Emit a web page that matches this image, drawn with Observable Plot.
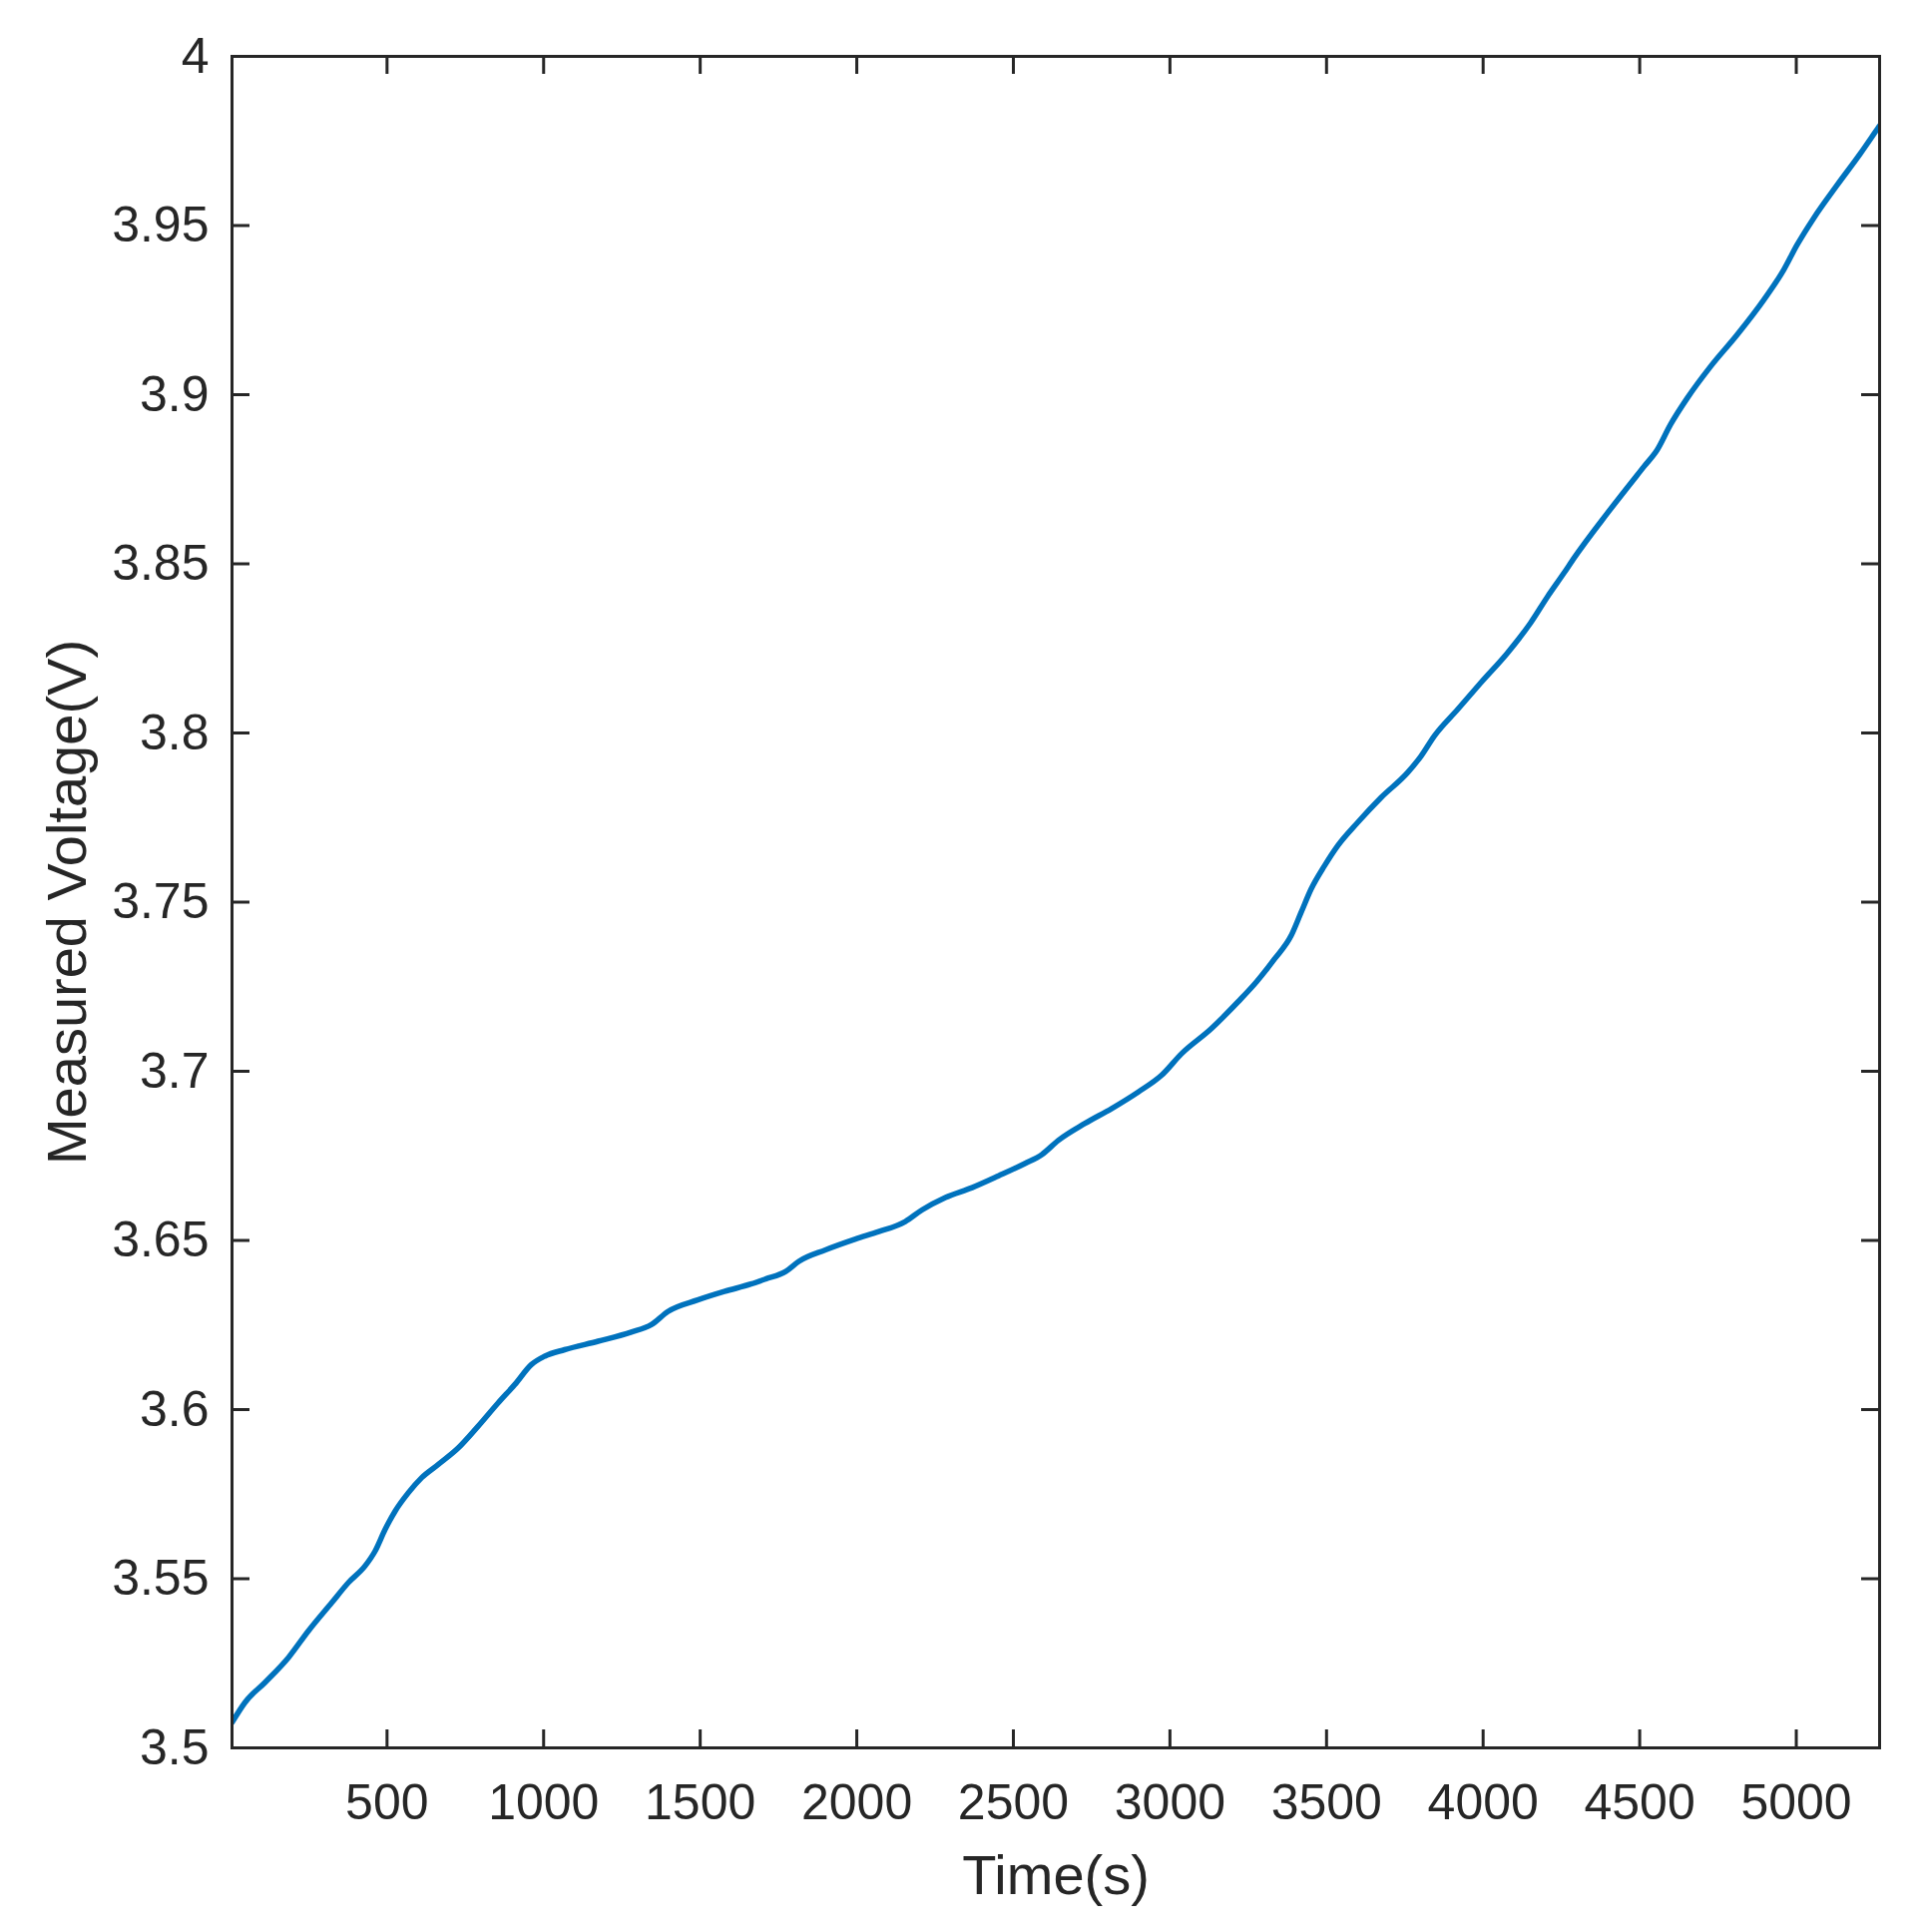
<!DOCTYPE html>
<html>
<head>
<meta charset="utf-8">
<script src="https://cdn.jsdelivr.net/npm/d3@7"></script>
<script src="https://cdn.jsdelivr.net/npm/@observablehq/plot@0.6"></script>
<style>
  html, body { margin: 0; padding: 0; background: #fff; }
</style>
</head>
<body>
<div id="chart"></div>
<script>
const timeS = [5, 47, 111, 186, 249, 324, 377, 430, 462, 494, 526, 568, 611, 664, 728, 791, 855, 908, 961, 1004,
  1067, 1174, 1280, 1344, 1397, 1492, 1577, 1662, 1709, 1773, 1815, 1900, 1996, 2070, 2155, 2208, 2283, 2368,
  2453, 2538, 2591, 2644, 2729, 2814, 2899, 2973, 3037, 3132, 3217, 3276, 3334, 3387, 3419, 3451, 3494, 3536,
  3600, 3674, 3759, 3802, 3844, 3919, 3993, 4078, 4152, 4205, 4259, 4291, 4397, 4514, 4556, 4598, 4652, 4726,
  4811, 4896, 4960, 5002, 5055, 5130, 5204, 5263, 5266];
const voltageV = [3.5075, 3.5135, 3.5194, 3.5268, 3.5346, 3.5430, 3.5489, 3.5538, 3.5582, 3.5646, 3.5700, 3.5754,
  3.5799, 3.5838, 3.5887, 3.5951, 3.6020, 3.6074, 3.6133, 3.6158, 3.6177, 3.6202, 3.6229, 3.6251, 3.6290, 3.6324,
  3.6349, 3.6371, 3.6386, 3.6408, 3.6438, 3.6472, 3.6504, 3.6526, 3.6556, 3.6590, 3.6627, 3.6656, 3.6691, 3.6728,
  3.6754, 3.6796, 3.6846, 3.6890, 3.6939, 3.6988, 3.7052, 3.7126, 3.7205, 3.7264, 3.7332, 3.7401, 3.7470, 3.7539,
  3.7608, 3.7667, 3.7736, 3.7809, 3.7883, 3.7932, 3.7991, 3.8070, 3.8149, 3.8237, 3.8326, 3.8402, 3.8474, 3.8518,
  3.8650, 3.8788, 3.8837, 3.8911, 3.8990, 3.9083, 3.9177, 3.9280, 3.9369, 3.9442, 3.9521, 3.9619, 3.9712, 3.9791,
  3.9795];
const xTicks = [500, 1000, 1500, 2000, 2500, 3000, 3500, 4000, 4500, 5000];
const yTicks = [3.5, 3.55, 3.6, 3.65, 3.7, 3.75, 3.8, 3.85, 3.9, 3.95, 4];
const xDomain = [5, 5266];
const yDomain = [3.5, 4];
const xLabel = "Time(s)";
const yLabel = "Measured Voltage(V)";

const data = timeS.map((t, i) => ({t, v: voltageV[i]}));

const W = 1925, H = 1936;
const mL = 232, mR = 42, mT = 56, mB = 185;
const innerH = H - mT - mB;
const innerW = W - mL - mR;
const TICK = 18;
const ink = "#262626";
const font = "'Liberation Sans', Arial, Helvetica, sans-serif";

const chart = Plot.plot({
  width: W,
  height: H,
  marginLeft: mL,
  marginRight: mR,
  marginTop: mT,
  marginBottom: mB,
  style: {fontFamily: font, fontSize: "50px", color: ink, background: "#fff"},
  x: {domain: xDomain, label: null},
  y: {domain: yDomain, label: null},
  marks: [
    Plot.line(data, {x: "t", y: "v", stroke: "#0072BD", strokeWidth: 5.5, curve: "monotone-x", clip: true}),
    Plot.tickX(xTicks, {x: d => d, insetTop: innerH - TICK, stroke: ink, strokeWidth: 3}),
    Plot.tickX(xTicks, {x: d => d, insetBottom: innerH - TICK, stroke: ink, strokeWidth: 3}),
    Plot.tickY(yTicks, {y: d => d, insetRight: innerW - TICK, stroke: ink, strokeWidth: 3}),
    Plot.tickY(yTicks, {y: d => d, insetLeft: innerW - TICK, stroke: ink, strokeWidth: 3}),
    Plot.frame({stroke: ink, strokeWidth: 3}),
    Plot.axisX({ticks: xTicks, tickSize: 0, tickPadding: 36, tickFormat: d => String(d), fontSize: 50, fill: ink}),
    Plot.axisY({ticks: yTicks, tickSize: 0, tickPadding: 23, tickFormat: d => String(d), fontSize: 50, fill: ink}),
    Plot.text([xLabel], {frameAnchor: "bottom", lineAnchor: "bottom", textAnchor: "middle", dy: 146, fontSize: 56, fill: ink, text: d => d}),
    Plot.text([yLabel], {frameAnchor: "left", lineAnchor: "bottom", textAnchor: "middle", rotate: -90, dx: -(mL - 85), fontSize: 56, fill: ink, text: d => d})
  ]
});
document.getElementById("chart").appendChild(chart);
</script>
</body>
</html>
